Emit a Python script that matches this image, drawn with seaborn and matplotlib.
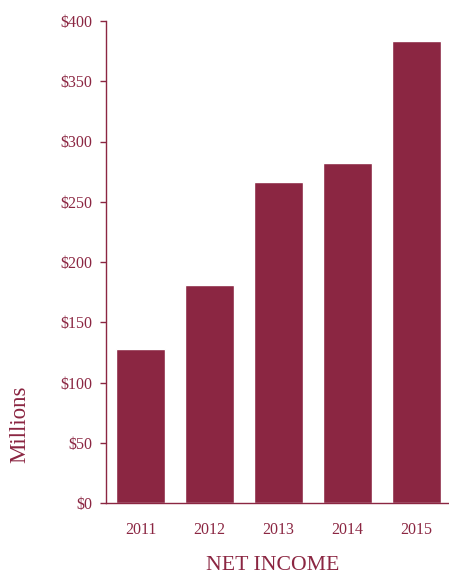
import matplotlib
matplotlib.use("Agg")
import matplotlib.pyplot as plt
import seaborn as sns
import pandas as pd

years = ["2011", "2012", "2013", "2014", "2015"]
net_income = [128, 181, 266, 282, 383]
yticks = [0, 50, 100, 150, 200, 250, 300, 350, 400]
ytick_labels = ["$0", "$50", "$100", "$150", "$200", "$250", "$300", "$350", "$400"]

maroon = "#8B2642"
sns.set_style("white")
plt.rcParams["font.family"] = ["Liberation Serif", "DejaVu Serif"]

df = pd.DataFrame({"year": years, "value": net_income})

fig = plt.figure(figsize=(4.49, 5.73), dpi=100)
ax = fig.add_axes([106/449, 1-503/573, 345/449, (503-21)/573])
sns.barplot(data=df, x="year", y="value", color=maroon, saturation=1, width=0.71, ax=ax)

ax.set_xlim(-0.5, 4.5)
ax.set_ylim(0, 400)
ax.set_yticks(yticks)
ax.set_yticklabels(ytick_labels)
ax.set_xlabel("")
ax.set_ylabel("")
for s in ["top", "right"]:
    ax.spines[s].set_visible(False)
for s in ["left", "bottom"]:
    ax.spines[s].set_color(maroon)
    ax.spines[s].set_linewidth(1.0)
ax.tick_params(axis="y", which="both", left=True, length=4, width=1, color=maroon,
               labelcolor=maroon, labelsize=11.5, pad=6)
ax.tick_params(axis="x", which="both", bottom=False, labelcolor=maroon, labelsize=11.5, pad=10)

fig.text(20/449, 1-424/573, "Millions", rotation=90, ha="center", va="center",
         color=maroon, fontsize=16.5)
fig.text(273/449, 1-565/573, "NET INCOME", ha="center", va="center",
         color=maroon, fontsize=15.7)

fig.savefig("out.png", dpi=100)
